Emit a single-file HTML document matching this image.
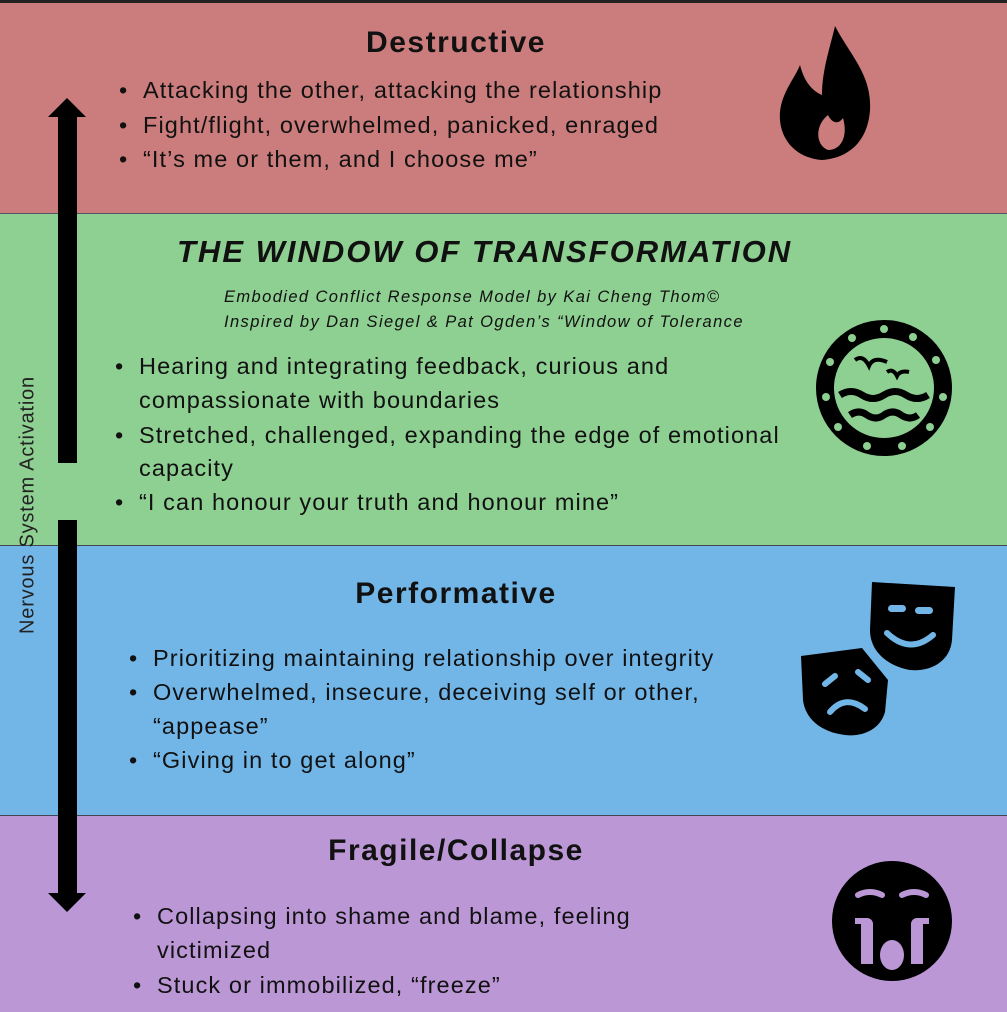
<!DOCTYPE html>
<html><head><meta charset="utf-8"><style>
body{margin:0;width:1007px;height:1011px;position:relative;overflow:hidden;font-family:"Liberation Sans",sans-serif;color:#111}
.band{position:absolute;left:0;width:1007px}
.t{position:absolute;white-space:nowrap;line-height:34px;font-size:23.5px;letter-spacing:1.1px}
.h{position:absolute;left:0;width:912px;text-align:center;font-weight:bold;font-size:30px;letter-spacing:1.5px;line-height:40px}
.b::before{content:"•";position:absolute;margin-left:-24px}
</style></head><body>
<div class="band" style="top:0;height:213px;background:#cb7c7c;border-top:3px solid #222;box-sizing:border-box"></div>
<div class="band" style="top:213px;height:332px;background:#8ecf92;border-top:1px solid #556"></div>
<div class="band" style="top:545px;height:270px;background:#72b6e8;border-top:1px solid #445"></div>
<div class="band" style="top:815px;height:196px;background:#bb97d6;border-top:1px solid #445"></div>

<svg width="1007" height="1011" style="position:absolute;left:0;top:0">
<polygon points="67,98 86,117 77,117 77,463 58,463 58,117 48,117" fill="#000"/>
<polygon points="67,912 86,893 77,893 77,520 58,520 58,893 48,893" fill="#000"/>
<path d="M835,26 C850,55 872,75 870,110 C868,140 850,158 822,160 C795,158 778,138 780,112 C782,92 795,78 800,65 C805,85 815,92 822,95 C822,70 830,48 835,26 Z M828,115 C815,125 815,145 828,150 C842,150 848,135 843,118 C838,125 832,123 828,115 Z" fill="#000" fill-rule="evenodd"/>
<circle cx="884" cy="388" r="68" fill="#000"/>
<circle cx="884" cy="388" r="50" fill="#8ecf92"/>
<g fill="#8ecf92">
<circle cx="884" cy="329" r="4"/><circle cx="913" cy="337" r="4"/><circle cx="936" cy="360" r="4"/><circle cx="943" cy="397" r="4"/><circle cx="930" cy="427" r="4"/><circle cx="902" cy="446" r="4"/><circle cx="867" cy="446" r="4"/><circle cx="838" cy="427" r="4"/><circle cx="826" cy="397" r="4"/><circle cx="830" cy="362" r="4"/><circle cx="852" cy="338" r="4"/>
</g>
<path d="M855,360 q8,-6 14,6 q4,-10 18,-4 M887,372 q6,-4 10,4 q3,-6 12,-4" stroke="#000" stroke-width="4" fill="none"/>
<path d="M840,395 q11,-7 22,0 q11,7 22,0 q11,-7 22,0 q11,7 22,0 M850,415 q9,-6 17,0 q9,6 17,0 q9,-6 17,0 q9,6 17,0" stroke="#000" stroke-width="7" fill="none"/>
<path d="M872,582 L955,587 L952,640 C950,662 930,672 910,670 C888,666 870,652 870,630 Z" fill="#000"/>
<rect x="888" y="605" width="18" height="7" rx="3.5" fill="#72b6e8"/><rect x="915" y="607" width="18" height="7" rx="3.5" fill="#72b6e8"/>
<path d="M887,633 q23,22 46,2" stroke="#72b6e8" stroke-width="6" fill="none" stroke-linecap="round"/>
<path d="M801,656 L862,648 L888,680 L885,712 C880,730 862,737 845,735 C820,732 805,718 803,700 Z" fill="#000"/>
<path d="M825,684 l10,-8 M858,672 l10,8" stroke="#72b6e8" stroke-width="6" stroke-linecap="round"/>
<path d="M830,712 q15,-18 35,-3" stroke="#72b6e8" stroke-width="6" fill="none" stroke-linecap="round"/>
<circle cx="892" cy="921" r="60" fill="#000"/>
<path d="M858,895 q12,-6 24,0 M902,895 q12,-6 24,0" stroke="#bb97d6" stroke-width="6" fill="none" stroke-linecap="round"/>
<path d="M855,918 h12 a6,6 0 0 1 6,6 v40 h-12 v-40 h-6 z M929,918 h-12 a6,6 0 0 0 -6,6 v40 h12 v-40 h6 z" fill="#bb97d6"/>
<ellipse cx="892" cy="955" rx="12" ry="15" fill="#bb97d6"/>
</svg>

<div style="position:absolute;left:28px;top:505px;transform:translate(-50%,-50%) rotate(-90deg);white-space:nowrap;font-size:20px;letter-spacing:0.8px;color:#222">Nervous System Activation</div>

<div class="h" style="top:23px">Destructive</div>
<div class="t b" style="left:143px;top:73px">Attacking the other, attacking the relationship</div>
<div class="t b" style="left:143px;top:108px">Fight/flight, overwhelmed, panicked, enraged</div>
<div class="t b" style="left:143px;top:142px">“It’s me or them, and I choose me”</div>

<div style="position:absolute;left:177px;top:230px;font-weight:bold;font-style:italic;font-size:31px;letter-spacing:2px;white-space:nowrap;line-height:44px">THE WINDOW OF TRANSFORMATION</div>
<div class="t" style="left:224px;top:284px;font-style:italic;font-size:16.5px;letter-spacing:1.4px;line-height:26px">Embodied Conflict Response Model by Kai Cheng Thom©</div>
<div class="t" style="left:224px;top:309px;font-style:italic;font-size:16.5px;letter-spacing:1.4px;line-height:26px">Inspired by Dan Siegel &amp; Pat Ogden’s “Window of Tolerance</div>
<div class="t b" style="left:139px;top:349px">Hearing and integrating feedback, curious and</div>
<div class="t" style="left:139px;top:383px">compassionate with boundaries</div>
<div class="t b" style="left:139px;top:418px">Stretched, challenged, expanding the edge of emotional</div>
<div class="t" style="left:139px;top:451px">capacity</div>
<div class="t b" style="left:139px;top:485px">“I can honour your truth and honour mine”</div>

<div class="h" style="top:574px">Performative</div>
<div class="t b" style="left:153px;top:641px">Prioritizing maintaining relationship over integrity</div>
<div class="t b" style="left:153px;top:675px">Overwhelmed, insecure, deceiving self or other,</div>
<div class="t" style="left:153px;top:709px">“appease”</div>
<div class="t b" style="left:153px;top:743px">“Giving in to get along”</div>

<div class="h" style="top:831px">Fragile/Collapse</div>
<div class="t b" style="left:157px;top:899px">Collapsing into shame and blame, feeling</div>
<div class="t" style="left:157px;top:933px">victimized</div>
<div class="t b" style="left:157px;top:968px">Stuck or immobilized, “freeze”</div>
</body></html>
